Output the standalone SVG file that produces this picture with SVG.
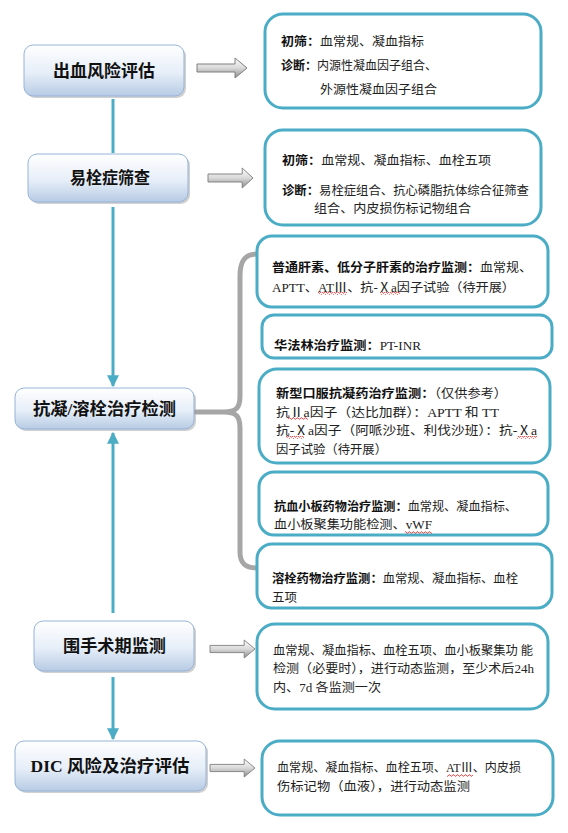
<svg xmlns="http://www.w3.org/2000/svg" width="568" height="833" viewBox="0 0 568 833">
<defs>
<linearGradient id="ng" x1="0" y1="0" x2="0" y2="1">
<stop offset="0" stop-color="#FFFFFF"/><stop offset="0.55" stop-color="#E6EEF8"/><stop offset="1" stop-color="#B7CBE4"/>
</linearGradient>
<linearGradient id="ag" x1="0" y1="0" x2="0" y2="1">
<stop offset="0" stop-color="#FFFFFF"/><stop offset="0.5" stop-color="#D9D9D9"/><stop offset="1" stop-color="#8C8C8C"/>
</linearGradient>
<pattern id="wave" width="4" height="3" patternUnits="userSpaceOnUse">
<path d="M0,2.2 L1,0.8 L2,0.8 L3,2.2 L4,2.2" fill="none" stroke="#E03030" stroke-width="0.8"/>
</pattern>
<marker id="ah" viewBox="0 0 10 10" refX="9" refY="5" markerWidth="4" markerHeight="4" orient="auto">
<path d="M0,0 L10,5 L0,10 z" fill="#4BACC6"/>
</marker>
<path id="blk" d="M0,6 L38,6 L38,0 L50,10 L38,20 L38,14 L0,14 z"/>
</defs>
<style>
.node rect.b{fill:url(#ng);stroke:#95B3D7;stroke-width:1}
.node rect.s{fill:#9A9A9A;opacity:0.45}
.nt{font-family:"Liberation Serif","Noto Sans CJK SC",serif;font-weight:bold;font-size:17px;fill:#111;text-anchor:middle}
.box rect.f{fill:#fff;stroke:#4BACC6;stroke-width:3}
.box rect.w{fill:url(#wave);stroke:none}
.t{font-family:"Liberation Serif","Noto Sans CJK SC",serif;font-size:12.5px;fill:#222}
.bd{font-weight:bold;fill:#111}
.arr use{fill:url(#ag);stroke:#7F7F7F;stroke-width:1}
.conn line{stroke:#4BACC6;stroke-width:3}
.brace{fill:none;stroke:#A6A6A6;stroke-width:5;stroke-linecap:round}
</style>

<g id="connectors" class="conn">
<line x1="113" y1="99" x2="113" y2="153"/>
<line x1="113" y1="207" x2="113" y2="386" marker-end="url(#ah)"/>
<line x1="113" y1="613" x2="113" y2="433" marker-end="url(#ah)"/>
<line x1="113" y1="677" x2="113" y2="739" marker-end="url(#ah)"/>
<path class="brace" d="M257,254 C244,254 240,262 240,276 L240,396 C240,408 236,412 224,412 L196,412 M224,412 C236,412 240,416 240,428 L240,552 C240,562 244,568 257,568"/>
</g>

<g class="arr">
<use href="#blk" transform="translate(197,58)"/>
<use href="#blk" transform="translate(208,168) scale(0.9,1)"/>
<use href="#blk" transform="translate(210,640) scale(0.9,0.9)"/>
<use href="#blk" transform="translate(210,759) scale(0.9,0.9)"/>
</g>

<g id="n1" class="node">
<rect class="s" x="26" y="47" width="160" height="51" rx="9"/>
<rect class="b" x="24" y="45" width="160" height="51" rx="9"/>
<text class="nt" x="104" y="77" textLength="102" lengthAdjust="spacingAndGlyphs">出血风险评估</text>
</g>
<g id="n2" class="node">
<rect class="s" x="30" y="156" width="160" height="48" rx="9"/>
<rect class="b" x="28" y="154" width="160" height="48" rx="9"/>
<text class="nt" x="110" y="184" textLength="80" lengthAdjust="spacingAndGlyphs">易栓症筛查</text>
</g>
<g id="n3" class="node">
<rect class="s" x="17" y="390" width="179" height="41" rx="9"/>
<rect class="b" x="15" y="388" width="179" height="41" rx="9"/>
<text class="nt" x="104.5" y="415" textLength="143" lengthAdjust="spacingAndGlyphs">抗凝/溶栓治疗检测</text>
</g>
<g id="n4" class="node">
<rect class="s" x="36" y="623" width="160" height="50" rx="9"/>
<rect class="b" x="34" y="621" width="160" height="50" rx="9"/>
<text class="nt" x="114.5" y="652" textLength="103" lengthAdjust="spacingAndGlyphs">围手术期监测</text>
</g>
<g id="n5" class="node">
<rect class="s" x="17" y="743" width="191" height="50" rx="9"/>
<rect class="b" x="15" y="741" width="191" height="50" rx="9"/>
<text class="nt" x="110" y="772" textLength="159" lengthAdjust="spacingAndGlyphs">DIC 风险及治疗评估</text>
</g>

<g id="bA" class="box">
<rect class="f" x="265" y="14" width="276" height="94" rx="18"/>
<text class="t" x="281" y="45.5" textLength="143" lengthAdjust="spacingAndGlyphs"><tspan class="bd">初筛：</tspan>血常规、凝血指标</text>
<text class="t" x="281" y="69.5" textLength="156" lengthAdjust="spacingAndGlyphs"><tspan class="bd">诊断：</tspan>内源性凝血因子组合、</text>
<text class="t" x="320" y="93.5" textLength="117" lengthAdjust="spacingAndGlyphs">外源性凝血因子组合</text>
</g>
<g id="bB" class="box">
<rect class="f" x="265" y="130" width="276" height="95" rx="18"/>
<text class="t" x="282" y="164.5" textLength="209" lengthAdjust="spacingAndGlyphs"><tspan class="bd">初筛：</tspan>血常规、凝血指标、血栓五项</text>
<text class="t" x="282" y="194.5" textLength="247" lengthAdjust="spacingAndGlyphs"><tspan class="bd">诊断：</tspan>易栓症组合、抗心磷脂抗体综合征筛查</text>
<text class="t" x="314" y="212.5" textLength="157" lengthAdjust="spacingAndGlyphs">组合、内皮损伤标记物组合</text>
</g>
<g id="bC1" class="box">
<rect class="f" x="257" y="236" width="291" height="71" rx="15"/>
<text class="t" x="272" y="271.5" textLength="260" lengthAdjust="spacingAndGlyphs"><tspan class="bd">普通肝素、低分子肝素的治疗监测：</tspan>血常规、</text>
<text class="t" x="272" y="291.5" textLength="243" lengthAdjust="spacingAndGlyphs">APTT、ATⅢ、抗-Ⅹa因子试验（待开展）</text>
<rect class="w" x="318" y="292" width="29" height="3"/>
<rect class="w" x="380" y="292" width="20" height="3"/>
</g>
<g id="bC2" class="box">
<rect class="f" x="262" y="315" width="290" height="43" rx="12"/>
<text class="t" x="274" y="349.5" textLength="147" lengthAdjust="spacingAndGlyphs"><tspan class="bd">华法林治疗监测：</tspan>PT-INR</text>
</g>
<g id="bC3" class="box">
<rect class="f" x="259" y="369" width="291" height="94" rx="18"/>
<text class="t" x="276" y="397.5" textLength="231" lengthAdjust="spacingAndGlyphs"><tspan class="bd">新型口服抗凝药治疗监测：</tspan>（仅供参考）</text>
<text class="t" x="276" y="416.5" textLength="223" lengthAdjust="spacingAndGlyphs">抗Ⅱa因子（达比加群）：APTT 和 TT</text>
<text class="t" x="276" y="434.5" textLength="261" lengthAdjust="spacingAndGlyphs">抗-Ⅹa因子（阿哌沙班、利伐沙班）：抗-Ⅹa</text>
<text class="t" x="276" y="453.5" textLength="111" lengthAdjust="spacingAndGlyphs">因子试验（待开展）</text>
<rect class="w" x="288" y="417" width="20" height="3"/>
<rect class="w" x="286" y="436" width="18" height="3"/>
<rect class="w" x="517" y="436" width="20" height="3"/>
</g>
<g id="bC4" class="box">
<rect class="f" x="259" y="472" width="289" height="63" rx="15"/>
<text class="t" x="274" y="510.5" textLength="243" lengthAdjust="spacingAndGlyphs"><tspan class="bd">抗血小板药物治疗监测：</tspan>血常规、凝血指标、</text>
<text class="t" x="274" y="528.5" textLength="158" lengthAdjust="spacingAndGlyphs">血小板聚集功能检测、vWF</text>
<rect class="w" x="405" y="531" width="27" height="3"/>
</g>
<g id="bC5" class="box">
<rect class="f" x="257" y="544" width="295" height="64" rx="15"/>
<text class="t" x="272" y="582.5" textLength="246" lengthAdjust="spacingAndGlyphs"><tspan class="bd">溶栓药物治疗监测：</tspan>血常规、凝血指标、血栓</text>
<text class="t" x="272" y="601.5" textLength="25" lengthAdjust="spacingAndGlyphs">五项</text>
</g>
<g id="bD" class="box">
<rect class="f" x="257" y="624" width="291" height="85" rx="18"/>
<text class="t" x="273" y="654.5" textLength="260" lengthAdjust="spacingAndGlyphs">血常规、凝血指标、血栓五项、血小板聚集功 能</text>
<text class="t" x="273" y="672.5" textLength="261" lengthAdjust="spacingAndGlyphs">检测（必要时），进行动态监测，至少术后24h</text>
<text class="t" x="273" y="691.5" textLength="108" lengthAdjust="spacingAndGlyphs">内、7d 各监测一次</text>
</g>
<g id="bE" class="box">
<rect class="f" x="262" y="741" width="291" height="74" rx="18"/>
<text class="t" x="277" y="771.5" textLength="244" lengthAdjust="spacingAndGlyphs">血常规、凝血指标、血栓五项、ATⅢ、内皮损</text>
<text class="t" x="277" y="790.5" textLength="193" lengthAdjust="spacingAndGlyphs">伤标记物（血液），进行动态监测</text>
<rect class="w" x="447" y="774" width="26" height="3"/>
</g>
</svg>
